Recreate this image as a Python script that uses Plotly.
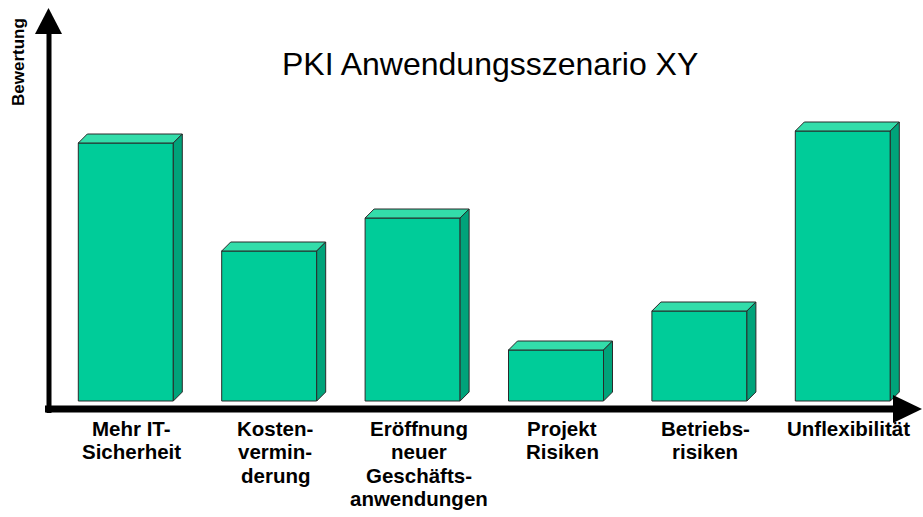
import plotly.graph_objects as go

# ---- data ----
categories = ["Mehr IT-\nSicherheit", "Kosten-\nvermin-\nderung",
              "Eröffnung\nneuer\nGeschäfts-\nanwendungen",
              "Projekt\nRisiken", "Betriebs-\nrisiken", "Unflexibilität"]
values = [8.6, 5.0, 6.1, 1.7, 3.0, 9.0]
title_text = "PKI Anwendungsszenario XY"
y_label = "Bewertung"

# ---- layout constants ----
W, H = 923, 517
x_unit_px = 143.4          # pixels per category slot
first_center_px = 125.8
y_unit_px = 30.0
baseline_px = 401.0
bar_w = 95 / x_unit_px
ddx = 9 / x_unit_px
ddy = 9 / y_unit_px

x0 = -first_center_px / x_unit_px
x1 = x0 + W / x_unit_px
y1 = baseline_px / y_unit_px
y0 = -(H - baseline_px) / y_unit_px

FRONT = "#00CC99"
TOP = "#33DDAA"
SIDE = "#00A37A"
EDGE = "#2a2a2a"

fig = go.Figure()
xs = list(range(len(values)))
fig.add_trace(go.Bar(x=xs, y=values, width=bar_w, base=0,
                     marker=dict(color=FRONT, line=dict(color=EDGE, width=1)),
                     hoverinfo="skip", showlegend=False))

for i, v in zip(xs, values):
    l, r = i - bar_w / 2, i + bar_w / 2
    # top face
    fig.add_trace(go.Scatter(x=[l, r, r + ddx, l + ddx, l], y=[v, v, v + ddy, v + ddy, v],
                             fill="toself", fillcolor=TOP, mode="lines",
                             line=dict(color=EDGE, width=1), hoverinfo="skip", showlegend=False))
    # side face
    fig.add_trace(go.Scatter(x=[r, r + ddx, r + ddx, r, r], y=[0, ddy, v + ddy, v, 0],
                             fill="toself", fillcolor=SIDE, mode="lines",
                             line=dict(color=EDGE, width=1), hoverinfo="skip", showlegend=False))

def px(xp):
    return xp / W

def py(yp):
    return 1 - yp / H

shapes = [
    # y axis shaft
    dict(type="line", xref="paper", yref="paper", x0=px(49), x1=px(49), y0=py(413), y1=py(30),
         line=dict(color="black", width=5)),
    # y arrow head
    dict(type="path", xref="paper", yref="paper",
         path=f"M {px(35)},{py(34)} L {px(62)},{py(34)} L {px(48.5)},{py(8)} Z",
         fillcolor="black", line=dict(color="black", width=0)),
    # x axis shaft
    dict(type="line", xref="paper", yref="paper", x0=px(45), x1=px(896), y0=py(409), y1=py(409),
         line=dict(color="black", width=7)),
    # x arrow head
    dict(type="path", xref="paper", yref="paper",
         path=f"M {px(893)},{py(395)} L {px(893)},{py(423)} L {px(922)},{py(409)} Z",
         fillcolor="black", line=dict(color="black", width=0)),
]

FONT = "Liberation Sans, Arial"
annotations = [
    dict(text=title_text, xref="paper", yref="paper", x=px(490), y=py(64),
         xanchor="center", yanchor="middle", showarrow=False,
         font=dict(family=FONT, size=32, color="black")),
    dict(text=f"<b>{y_label}</b>", xref="paper", yref="paper", x=px(18), y=py(62),
         xanchor="center", yanchor="middle", textangle=-90, showarrow=False,
         font=dict(family=FONT, size=17, color="black")),
]
label_top_px = 414.5
line_step_px = 23.5
for i, c in zip(xs, categories):
    for k, line in enumerate(c.split("\n")):
        annotations.append(dict(text=f"<b>{line}</b>", x=i, xref="x", xshift=6,
                                y=py(label_top_px + k * line_step_px), yref="paper",
                                xanchor="center", yanchor="top",
                                showarrow=False, align="center",
                                font=dict(family=FONT, size=20.5, color="black")))

fig.update_layout(
    width=W, height=H, margin=dict(l=0, r=0, t=0, b=0),
    paper_bgcolor="white", plot_bgcolor="white",
    xaxis=dict(range=[x0, x1], visible=False, fixedrange=True),
    yaxis=dict(range=[y0, y1], visible=False, fixedrange=True),
    shapes=shapes, annotations=annotations, showlegend=False,
)

fig.write_html("out.html", config={"displayModeBar": False},
               post_script="document.body.style.margin='0';document.body.style.overflow='hidden';")
